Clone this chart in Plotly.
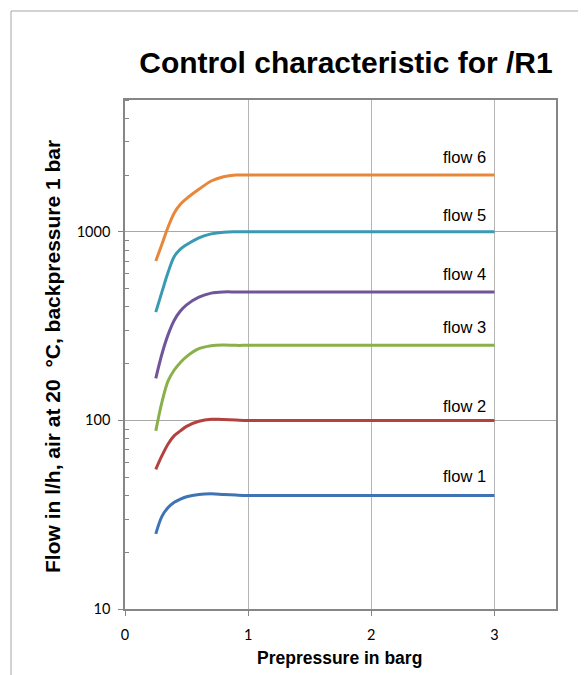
import math
import plotly.graph_objects as go

# ---- data ----
pressure = [0.25, 0.3, 0.35, 0.4, 0.45, 0.5, 0.6, 0.7, 0.8, 0.9, 1.0, 2.0, 3.0]
flow1 = [25, 31, 34.5, 36.8, 38.3, 39.4, 40.5, 40.8, 40.5, 40.2, 40, 40, 40]
flow2 = [55, 65, 75, 83, 88, 93, 99, 101.5, 101, 100.5, 100, 100, 100]
flow3 = [88, 125, 162, 185, 203, 218, 240, 249, 251, 250, 250, 250, 250]
flow4 = [167, 225, 285, 340, 380, 410, 450, 473, 480, 480, 480, 480, 480]
flow5 = [375, 480, 610, 740, 810, 855, 930, 975, 995, 1000, 1000, 1000, 1000]
flow6 = [700, 860, 1060, 1260, 1400, 1500, 1680, 1860, 1960, 2000, 2000, 2000, 2000]
series_names = ["flow 1", "flow 2", "flow 3", "flow 4", "flow 5", "flow 6"]
series_values = [flow1, flow2, flow3, flow4, flow5, flow6]
y_ticks = [10, 100, 1000]
y_tick_text = ["10", "100", "1000"]
y_minor = [20, 30, 40, 50, 60, 70, 80, 90, 200, 300, 400, 500, 600, 700, 800, 900,
           2000, 3000, 4000, 5000]
x_ticks = [0, 1, 2, 3]

# ---- style ----
colors = ["#3E74B5", "#B5413F", "#8AB04A", "#6F5599", "#3A9AB3", "#E8873A"]
label_yshift = [19, 14, 18, 18, 17, 18]

W, H = 578, 667          # page body has an 8px default margin
OFF = 8
L, T = 125 - OFF, 100 - OFF
R = W - (556 - OFF)
B = H - (609 - OFF)
PW, PH = 556 - 125, 609 - 100


def px_x(p):  # reference-window pixel -> paper x
    return (p - 125) / PW


def px_y(p):  # reference-window pixel -> paper y
    return (609 - p) / PH


fig = go.Figure()
for name, vals, c, ys in zip(series_names, series_values, colors, label_yshift):
    fig.add_trace(go.Scatter(x=pressure, y=vals, mode="lines", name=name,
                             line=dict(color=c, width=3, shape="spline", smoothing=1.0),
                             showlegend=False))
    fig.add_annotation(x=pressure[-1], y=math.log10(vals[-1]),
                       text=name, showarrow=False, xanchor="right", yanchor="middle",
                       xshift=-6, yshift=ys,
                       font=dict(family="Liberation Sans, Arial", size=16.5, color="#000"))

fig.update_layout(
    width=W, height=H,
    margin=dict(l=L, r=R, t=T, b=B),
    paper_bgcolor="white", plot_bgcolor="white",
    title=dict(text="<b>Control characteristic for /R1</b>",
               x=px_x(346), xref="paper", xanchor="center",
               y=1 - (62 - OFF) / H, yanchor="middle",
               font=dict(family="Liberation Sans, Arial", size=30, color="#000")),
    font=dict(family="Lato, Open Sans, sans-serif", size=14.5, color="#000"),
    xaxis=dict(range=[0, 3.5], tickvals=x_ticks, showgrid=True, gridcolor="#B5B5B5",
               gridwidth=1, zeroline=False, showline=True, linecolor="#868686",
               linewidth=1.5, mirror=True, ticks="outside", ticklen=5,
               tickcolor="#868686", tickfont=dict(size=14.5), ticklabelstandoff=7),
    yaxis=dict(type="log", range=[1, math.log10(5000)], tickvals=y_ticks,
               ticktext=y_tick_text,
               showgrid=True, gridcolor="#A8A8A8", gridwidth=1, zeroline=False,
               showline=True, linecolor="#868686", linewidth=1.5, mirror=True,
               ticks="outside", ticklen=5, tickcolor="#868686", tickfont=dict(size=14.5),
               ticklabelstandoff=5,
               minor=dict(tickmode="array", tickvals=y_minor, ticks="inside", ticklen=4,
                          tickcolor="#868686", showgrid=False)),
)

fig.add_annotation(text="<b>Prepressure in barg</b>", xref="paper", yref="paper",
                   x=px_x(339), y=px_y(658), showarrow=False,
                   xanchor="center", yanchor="middle",
                   font=dict(family="Liberation Sans, Arial", size=17.5, color="#000"))
fig.add_annotation(text="<b>Flow in l/h, air at 20  °C, backpressure 1 bar</b>",
                   xref="paper", yref="paper", x=px_x(52), y=px_y(357), textangle=-90,
                   showarrow=False, xanchor="center", yanchor="middle",
                   font=dict(family="Liberation Sans, Arial", size=21, color="#000"))

# outer chart-area border (cropped on right and bottom)
fig.add_shape(type="line", xref="paper", yref="paper",
              x0=px_x(11), y0=px_y(11), x1=px_x(600), y1=px_y(11),
              line=dict(color="#A6A6A6", width=1))
fig.add_shape(type="line", xref="paper", yref="paper",
              x0=px_x(11), y0=px_y(11), x1=px_x(11), y1=px_y(690),
              line=dict(color="#A6A6A6", width=1))

fig.write_html("out.html")
